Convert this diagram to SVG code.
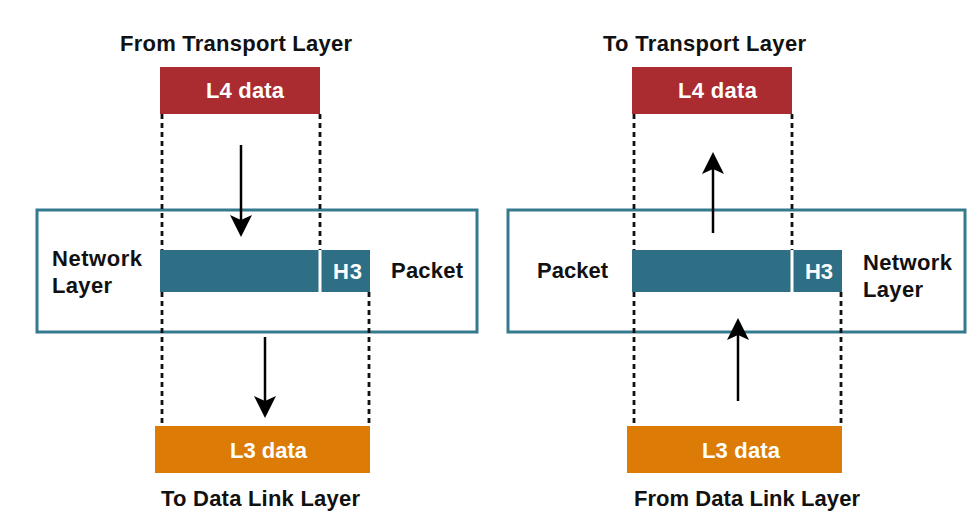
<svg xmlns="http://www.w3.org/2000/svg" width="977" height="528" viewBox="0 0 977 528">
<defs>
<style>
.lbl{font-family:"Liberation Sans",Arial,sans-serif;font-weight:bold;font-size:22px;fill:#111}
.wlbl{font-family:"Liberation Sans",Arial,sans-serif;font-weight:bold;font-size:22px;fill:#fff}
.l4{fill:#aa2c30}
.l3{fill:#dc7c06}
.bar{fill:#2f6f86}
.layer{fill:#fff;stroke:#347a8e;stroke-width:3}
.div{stroke:#fff;stroke-width:3}
.dash{stroke:#111;stroke-width:2.8;stroke-dasharray:5 4;fill:none}
.arr{stroke:#000;stroke-width:2.5;fill:none;marker-end:url(#ah)}
</style>
<marker id="ah" viewBox="-22 -11 22 22" markerUnits="userSpaceOnUse" markerWidth="22" markerHeight="22" refX="-17" refY="0" orient="auto">
<path d="M0,0 L-22,-11 L-17,0 L-22,11 Z" fill="#000"/>
</marker>
</defs>
<rect width="977" height="528" fill="#fff"/>

<g id="left-network-layer">
<rect class="layer" x="37" y="210" width="440" height="122"/>
<text class="lbl" x="52" y="266" textLength="90">Network</text>
<text class="lbl" x="52" y="293" textLength="60">Layer</text>
</g>
<g id="right-network-layer">
<rect class="layer" x="508" y="210" width="457" height="122"/>
<text class="lbl" x="863" y="270" textLength="89">Network</text>
<text class="lbl" x="863" y="297" textLength="60">Layer</text>
</g>

<g id="connectors">
<line class="dash" x1="162" y1="114" x2="162" y2="250"/>
<line class="dash" x1="320" y1="114" x2="320" y2="250"/>
<line class="dash" x1="162" y1="292" x2="162" y2="426"/>
<line class="dash" x1="369" y1="292" x2="369" y2="426"/>
<line class="dash" x1="634" y1="114" x2="634" y2="250"/>
<line class="dash" x1="792" y1="114" x2="792" y2="250"/>
<line class="dash" x1="634" y1="292" x2="634" y2="426"/>
<line class="dash" x1="841" y1="292" x2="841" y2="426"/>
<line class="arr" x1="241" y1="145" x2="241" y2="220"/>
<line class="arr" x1="265" y1="337" x2="265" y2="401"/>
<line class="arr" x1="713" y1="233" x2="713" y2="169"/>
<line class="arr" x1="738" y1="401" x2="738" y2="335"/>
</g>

<g id="left-l4">
<text class="lbl" x="120" y="51" textLength="232">From Transport Layer</text>
<rect class="l4" x="160" y="67" width="160" height="47"/>
<text class="wlbl" x="206" y="98" textLength="78">L4 data</text>
</g>
<g id="left-packet">
<rect class="bar" x="160" y="250" width="210" height="42"/>
<line class="div" x1="320" y1="250" x2="320" y2="292"/>
<text class="wlbl" x="333" y="279" textLength="29">H3</text>
<text class="lbl" x="391" y="278" textLength="72">Packet</text>
</g>
<g id="left-l3">
<rect class="l3" x="155" y="426" width="215" height="47"/>
<text class="wlbl" x="230" y="458" textLength="77">L3 data</text>
<text class="lbl" x="161" y="506" textLength="199">To Data Link Layer</text>
</g>

<g id="right-l4">
<text class="lbl" x="603" y="51" textLength="203">To Transport Layer</text>
<rect class="l4" x="632" y="67" width="160" height="47"/>
<text class="wlbl" x="678" y="98" textLength="79">L4 data</text>
</g>
<g id="right-packet">
<rect class="bar" x="632" y="250" width="210" height="42"/>
<line class="div" x1="792" y1="250" x2="792" y2="292"/>
<text class="wlbl" x="805" y="279" textLength="28">H3</text>
<text class="lbl" x="537" y="278" textLength="71">Packet</text>
</g>
<g id="right-l3">
<rect class="l3" x="627" y="426" width="215" height="47"/>
<text class="wlbl" x="702" y="458" textLength="78">L3 data</text>
<text class="lbl" x="634" y="506" textLength="226">From Data Link Layer</text>
</g>
</svg>
